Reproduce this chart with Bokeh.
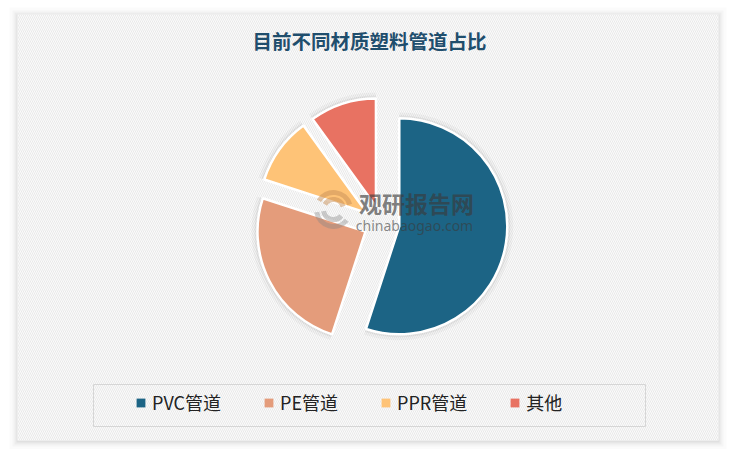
import numpy as np
from bokeh.plotting import figure
from bokeh.models import Range1d, ColumnDataSource, Legend, LegendItem
from bokeh.core.properties import value
from bokeh.embed import file_html
from bokeh.resources import INLINE

# ---- data ----
categories = ["PVC管道", "PE管道", "PPR管道", "其他"]
shares = [55, 25, 10, 10]
colors = ["#1c6485", "#e49c7b", "#fec377", "#e87262"]
title_text = "目前不同材质塑料管道占比"
watermark_cn = "观研报告网"
watermark_en = "chinabaogao.com"

FONT = "Noto Sans CJK SC"
PAGE_H = 457
FW, FH = 728, 449

def Y(sy):
    # convert page pixel y (down) to data y (up)
    return PAGE_H - sy

p = figure(width=FW, height=FH, output_backend="svg", toolbar_location=None,
           x_range=Range1d(0, FW), y_range=Range1d(PAGE_H - FH, PAGE_H),
           x_axis_type=None, y_axis_type=None, min_border=0)
p.grid.visible = False
p.outline_line_color = None
p.background_fill_color = "white"
p.border_fill_color = "white"

# ---- card with soft shadow ----
cx_card, cy_card, w_card, h_card = 367.5, Y(227), 701, 426
for k, a in [(8, 0.015), (5, 0.025), (3, 0.035), (1, 0.05)]:
    p.rect(x=cx_card, y=cy_card - 1, width=w_card + 2 * k, height=h_card + 2 * k,
           fill_color="black", fill_alpha=a, line_color=None)
p.rect(x=cx_card, y=cy_card, width=w_card, height=h_card, fill_color="#fbfbfb",
       line_color=None, hatch_pattern="\\", hatch_color="#e9e9e9",
       hatch_scale=4, hatch_weight=1)

# ---- exploded pie ----
vals = np.array(shares, dtype=float)
frac = vals / vals.sum()
cum = np.concatenate([[0.0], np.cumsum(frac)]) * 2 * np.pi  # clockwise from top
t1, t2 = cum[:-1], cum[1:]
mid = (t1 + t2) / 2
C_x, C_y, R, OFF = 381.0, Y(223), 108, 18
src = ColumnDataSource(dict(
    cat=categories, color=colors,
    cx=C_x + OFF * np.sin(mid), cy=C_y + OFF * np.cos(mid),
    start=np.pi / 2 - t2, end=np.pi / 2 - t1,
))
for rr, a in [(114, 0.03), (111, 0.05)]:
    p.wedge(x="cx", y="cy", radius=rr, start_angle="start", end_angle="end",
            fill_color="black", fill_alpha=a, line_color=None, source=src)
p.wedge(x="cx", y="cy", radius=R, start_angle="start", end_angle="end",
        fill_color="color", line_color="white", line_width=2.5, source=src)

# ---- watermark ----
p.arc(x=[333, 333], y=[Y(209), Y(209)], radius=[17, 10],
      start_angle=[0.3, 0.3], end_angle=[2.6, 2.6],
      line_color=["#c89058", "#c89058"], line_alpha=0.5, line_width=5)
p.arc(x=[333, 333], y=[Y(209), Y(209)], radius=[17, 10],
      start_angle=[3.3, 3.3], end_angle=[5.6, 5.6],
      line_color=["#888888", "#888888"], line_alpha=0.4, line_width=5)
p.text(x=[416], y=[Y(202)], text=[watermark_cn], text_align="center",
       text_baseline="middle", text_font=value(FONT), text_font_style="bold",
       text_font_size="23px", text_color="#3a3a3a", text_alpha=0.65)
p.text(x=[414], y=[Y(225)], text=[watermark_en], text_align="center",
       text_baseline="middle", text_font=value("Noto Sans"),
       text_font_size="14px", text_color="#3a3a3a", text_alpha=0.6)

# ---- title ----
p.text(x=[369], y=[Y(40)], text=[title_text], text_align="center",
       text_baseline="middle", text_font=value(FONT), text_font_style="bold",
       text_font_size="19.5px", text_color="#1f4e6d")

# ---- legend box ----
p.rect(x=369, y=Y(405), width=552, height=42, fill_alpha=0,
       line_color="#d6d6d6", line_width=1)

# legend proxies (placed off-screen so only their legend swatch shows)
items = []
for cat, col in zip(categories, colors):
    r = p.rect(x=[-500], y=[-500], width=1, height=1, fill_color=col, line_color=None)
    items.append(LegendItem(label=cat, renderers=[r]))
legend = Legend(items=items, orientation="horizontal", location=(135, Y(405) - (PAGE_H - FH) - 10),
                border_line_color=None, background_fill_alpha=0,
                padding=0, margin=0, spacing=42, glyph_width=11, glyph_height=11,
                label_standoff=6, label_text_font=FONT, label_height=20,
                label_text_font_size="18px", label_text_color="#222222")
p.add_layout(legend)

open("out.html", "w").write(file_html(p, INLINE))
